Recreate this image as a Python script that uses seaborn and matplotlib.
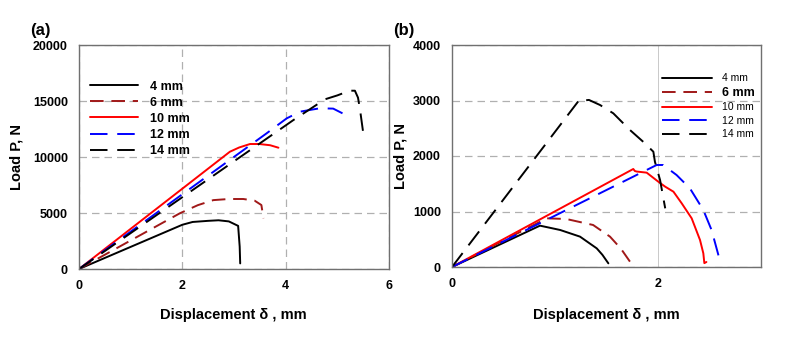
import numpy as np
import pandas as pd
import matplotlib
matplotlib.use("Agg")
import matplotlib.pyplot as plt
import seaborn as sns

sns.set_theme(style="white")
plt.rcParams['font.family'] = ['Liberation Sans', 'DejaVu Sans']
plt.rcParams['text.color'] = 'black'
plt.rcParams['axes.labelcolor'] = 'black'
plt.rcParams['xtick.color'] = 'black'
plt.rcParams['ytick.color'] = 'black'

labels = ["4 mm", "6 mm", "10 mm", "12 mm", "14 mm"]
colors = ["black", "#a01818", "red", "blue", "black"]
dashes = [None, (7, 4), None, (9, 5), (9, 5)]

# ---- panel (a) ----
a4_x = [0, 2.0, 2.2, 2.5, 2.7, 2.9, 3.08, 3.11, 3.12]
a4_y = [0, 3950, 4200, 4300, 4350, 4250, 3850, 2000, 500]
a6_x = [0, 1.95, 2.3, 2.6, 2.9, 3.18, 3.4, 3.53, 3.57]
a6_y = [0, 4970, 5700, 6150, 6250, 6250, 6100, 5710, 4530]
a10_x = [0, 2.92, 3.1, 3.31, 3.49, 3.7, 3.86]
a10_y = [0, 10470, 10850, 11160, 11160, 11050, 10830]
a12_x = [0, 3.63, 4.02, 4.28, 4.66, 4.92, 5.10]
a12_y = [0, 12110, 13450, 14050, 14350, 14320, 13900]
a14_x = [0, 4.15, 4.76, 5.0, 5.24, 5.34, 5.40, 5.44, 5.52]
a14_y = [0, 13300, 15150, 15500, 15920, 15920, 15300, 14200, 11520]

# ---- panel (b) ----
b4_x = [0, 0.854, 1.05, 1.243, 1.405, 1.46, 1.518]
b4_y = [0, 745, 667, 547, 336, 220, 66]
b6_x = [0, 0.919, 1.11, 1.37, 1.534, 1.64, 1.728]
b6_y = [0, 877, 865, 757, 547, 330, 96]
b10_x = [0, 1.76, 1.775, 1.793, 1.89, 2.003, 2.07, 2.15, 2.23, 2.327, 2.408, 2.44, 2.45, 2.47]
b10_y = [0, 1766, 1730, 1720, 1700, 1537, 1447, 1357, 1148, 877, 486, 247, 70, 90]
b12_x = [0, 1.987, 2.05, 2.18, 2.31, 2.44, 2.52, 2.595]
b12_y = [0, 1838, 1838, 1658, 1417, 1027, 667, 156]
b14_x = [0, 1.243, 1.27, 1.33, 1.437, 1.566, 1.728, 1.86, 1.955, 1.97, 2.02, 2.07]
b14_y = [0, 3027, 3000, 3010, 2919, 2769, 2468, 2250, 2077, 1898, 1568, 1057]

a_series = [(a4_x, a4_y), (a6_x, a6_y), (a10_x, a10_y), (a12_x, a12_y), (a14_x, a14_y)]
b_series = [(b4_x, b4_y), (b6_x, b6_y), (b10_x, b10_y), (b12_x, b12_y), (b14_x, b14_y)]

fig = plt.figure(figsize=(8.02, 3.37), dpi=100)
axA = fig.add_axes([79/802, 1-269/337, 310/802, 224/337])
axB = fig.add_axes([452/802, 1-267/337, 309/802, 222/337])

def draw(ax, series):
    for (x, y), lab, c, d in zip(series, labels, colors, dashes):
        df = pd.DataFrame({"x": x, "y": y})
        sns.lineplot(data=df, x="x", y="y", ax=ax, sort=False, estimator=None,
                     color=c, linewidth=1.4, label=lab)
        ln = ax.get_lines()[-1]
        if d is not None:
            ln.set_dashes(d)

draw(axA, a_series)
draw(axB, b_series)

for ax in (axA, axB):
    for s in ax.spines.values():
        s.set_color("#707070")
        s.set_linewidth(1.0)
    ax.tick_params(axis="both", direction="out", length=4, width=1, color="#505050",
                   pad=4, labelsize=9, labelcolor="black")
    ax.set_xlabel("Displacement δ , mm", fontsize=10.5, fontweight="bold", color="black")
    ax.set_ylabel("Load P, N", fontsize=10.5, fontweight="bold", color="black")

axA.set_xlim(0, 6)
axA.set_ylim(0, 20000)
axA.set_xticks([0, 2, 4, 6])
axA.set_yticks([0, 5000, 10000, 15000, 20000])
axB.set_xlim(0, 3)
axB.set_ylim(0, 4000)
axB.set_xticks([0, 2])
axB.set_yticks([0, 1000, 2000, 3000, 4000])
for ax in (axA, axB):
    for t in ax.get_xticklabels() + ax.get_yticklabels():
        t.set_fontweight("bold")
        t.set_fontsize(9)
        t.set_color("black")

axA.grid(True, color="#b0b0b0", linestyle=(0, (6, 4)), linewidth=0.9)
axB.grid(True, axis="y", color="#b0b0b0", linestyle=(0, (6, 4)), linewidth=0.9)
axB.grid(True, axis="x", color="#c0c0c0", linestyle="-", linewidth=0.6)
axA.set_axisbelow(True)
axB.set_axisbelow(True)

axA.yaxis.set_label_coords(-0.18, 0.5)
axB.yaxis.set_label_coords(-0.145, 0.5)
axA.xaxis.set_label_coords(0.498, -0.175)
axB.xaxis.set_label_coords(0.5, -0.185)

legA = axA.legend(loc="upper left", bbox_to_anchor=(0.01, 0.875), frameon=False,
                  handlelength=3.9, handletextpad=0.9, labelspacing=0.33,
                  prop=dict(size=9, weight="bold"), borderaxespad=0.2)
legB = axB.legend(loc="upper left", bbox_to_anchor=(0.66, 0.90), frameon=False,
                  handlelength=4.8, handletextpad=0.9, labelspacing=0.33,
                  prop=dict(size=7.5), borderaxespad=0.2)
legB.get_texts()[1].set_fontweight("bold")
legB.get_texts()[1].set_fontsize(9)
for leg in (legA, legB):
    for t in leg.get_texts():
        t.set_color("black")

fig.text(30/802, 1-30/337, "(a)", fontsize=12, fontweight="bold", va="center", ha="left", color="black")
fig.text(393/802, 1-30/337, "(b)", fontsize=12, fontweight="bold", va="center", ha="left", color="black")

fig.savefig("out.png", dpi=100)
